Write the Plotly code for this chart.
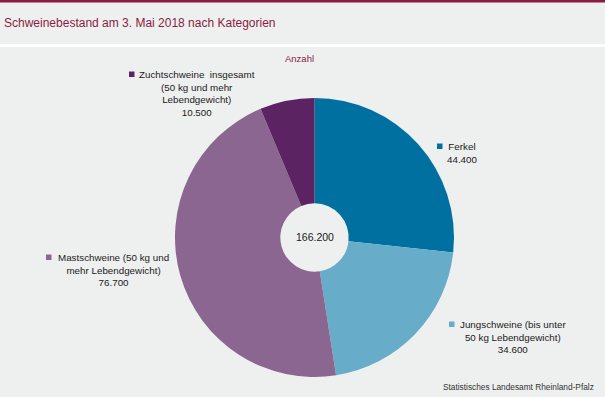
import plotly.graph_objects as go

W, H = 605, 397

# Data
categories = [
    "Ferkel",
    "Jungschweine (bis unter 50 kg Lebendgewicht)",
    "Mastschweine (50 kg und mehr Lebendgewicht)",
    "Zuchtschweine insgesamt (50 kg und mehr Lebendgewicht)",
]
label_lines = [
    ["Ferkel"],
    ["Jungschweine (bis unter", "50 kg Lebendgewicht)"],
    ["Mastschweine (50 kg und", "mehr Lebendgewicht)"],
    ["Zuchtschweine  insgesamt", "(50 kg und mehr", "Lebendgewicht)"],
]
values = [44400, 34600, 76700, 10500]
colors = ["#0070a0", "#67adca", "#8b6690", "#5b2362"]

title_text = "Schweinebestand am 3. Mai 2018 nach Kategorien"
unit_text = "Anzahl"
source_text = "Statistisches Landesamt Rheinland-Pfalz"


def de(n):
    return f"{n:,}".replace(",", ".")


def px(x):
    return x / W


def py(y):
    return 1 - y / H


BG = "#eef0ef"
RED = "#8b1c3f"
FONT = "Liberation Sans, Arial, sans-serif"

fig = go.Figure(
    go.Pie(
        labels=categories,
        values=values,
        marker=dict(colors=colors, line=dict(width=0)),
        sort=False,
        direction="clockwise",
        rotation=0,
        hole=0.245,
        textinfo="none",
        hoverinfo="label+value",
        domain=dict(x=[px(175), px(454)], y=[py(377), py(98)]),
        showlegend=False,
    )
)

# label placement (layout): text block centre x, first-line centre y, square x
label_pos = [
    (462, 146, 437),
    (513, 324, 449),
    (113, 257, 46),
    (197, 74, 129),
]
LSIZE = 9.8
LH = LSIZE * 1.3

annotations = []
shapes = [
    dict(type="rect", xref="paper", yref="paper", x0=0, x1=1, y0=py(2.5), y1=1,
         fillcolor=RED, line=dict(width=0), layer="above"),
    dict(type="rect", xref="paper", yref="paper", x0=0, x1=1, y0=py(47), y1=py(44),
         fillcolor="white", line=dict(width=0), layer="above"),
]

for lines, v, c, (cx, cy, sx) in zip(label_lines, values, colors, label_pos):
    all_lines = lines + [de(v)]
    text = "<br>".join(all_lines)
    top = cy - LH / 2
    annotations.append(dict(
        x=px(cx), y=py(top - 1), xref="paper", yref="paper",
        xanchor="center", yanchor="top", align="center",
        text=text, showarrow=False,
        font=dict(family=FONT, size=LSIZE, color="#1a1a1a"),
    ))
    shapes.append(dict(
        type="rect", xref="paper", yref="paper",
        x0=px(sx), x1=px(sx + 5.5), y0=py(cy + 3), y1=py(cy - 2.5),
        fillcolor=c, line=dict(width=0),
    ))

annotations += [
    dict(x=px(2), y=py(23), xref="paper", yref="paper", xanchor="left", yanchor="middle",
         text=title_text, showarrow=False, font=dict(family=FONT, size=12, color=RED)),
    dict(x=px(299), y=py(59), xref="paper", yref="paper", xanchor="center", yanchor="middle",
         text=unit_text, showarrow=False, font=dict(family=FONT, size=9.5, color=RED)),
    dict(x=px(315), y=py(237), xref="paper", yref="paper", xanchor="center", yanchor="middle",
         text=de(sum(values)), showarrow=False, font=dict(family=FONT, size=10.5, color="#1a1a1a")),
    dict(x=px(596), y=py(387), xref="paper", yref="paper", xanchor="right", yanchor="middle",
         text=source_text, showarrow=False, font=dict(family=FONT, size=8.3, color="#333333")),
]

fig.update_layout(
    width=W, height=H,
    margin=dict(l=0, r=0, t=0, b=0),
    paper_bgcolor=BG, plot_bgcolor=BG,
    annotations=annotations, shapes=shapes,
    font=dict(family=FONT),
)

fig.write_html(
    "out.html",
    config={"displayModeBar": False},
    post_script="document.body.style.margin='0';document.body.style.padding='0';document.body.style.overflow='hidden';",
)
